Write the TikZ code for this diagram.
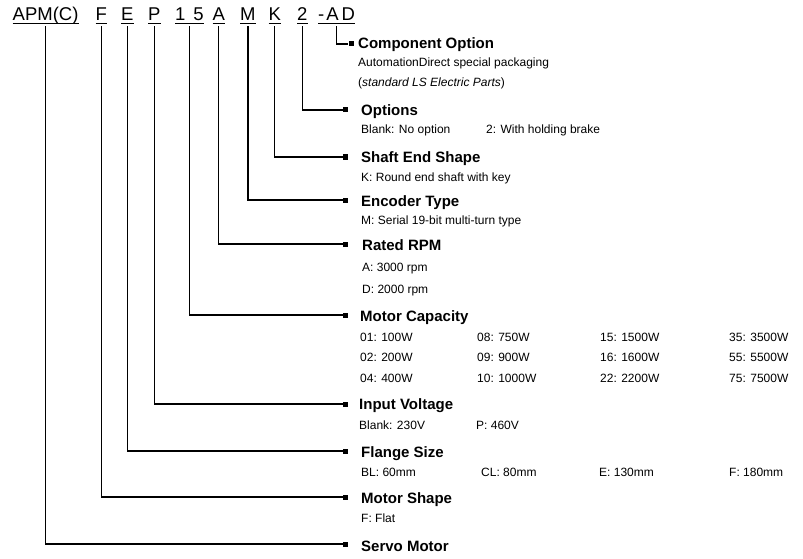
\documentclass[tikz,border=0pt]{standalone}
\usepackage{fontspec}
\setmainfont{Liberation Sans}
\begin{document}
\begin{tikzpicture}[x=1pt,y=-1pt,
  code/.style={anchor=base west,inner sep=0pt,font=\fontsize{18.5}{20}\selectfont},
  head/.style={anchor=base west,inner sep=0pt,font=\fontsize{15}{17}\selectfont\bfseries},
  sub/.style={anchor=base west,inner sep=0pt,font=\fontsize{12}{14}\selectfont},
  sq/.style={fill=black,inner sep=0pt,minimum size=5pt},
  conn/.style={line width=1.2pt},
  uline/.style={line width=1pt}]
\useasboundingbox (0,0) rectangle (803,559);
% code letters
\node[code] (c1) at (12.5,20.7) {APM(C)};
\node[code] (c2) at (95.5,20.7) {F};
\node[code] (c3) at (121,20.7) {E};
\node[code] (c4) at (148,20.7) {P};
\node[code] (c5) at (175,20.7) {1\kern8pt 5};
\node[code] (c6) at (212.5,20.7) {A};
\node[code] (c7) at (240,20.7) {M};
\node[code] (c8) at (268.5,20.7) {K};
\node[code] (c9) at (297,20.7) {2};
\node[code] (c10) at (318,20.7) {-\kern2pt A\kern3pt D};
\foreach \n in {c1,c2,c3,c4,c5,c6,c7,c8,c9,c10}
  \draw[uline] ([yshift=-2.8pt]\n.base west) -- ([yshift=-2.8pt]\n.base east);
% squares
\node[sq] (s10) at (351,44) {};
\node[sq] (s9) at (345.5,110) {};
\node[sq] (s8) at (345.5,157) {};
\node[sq] (s7) at (345.5,200) {};
\node[sq] (s6) at (345.5,244) {};
\node[sq] (s5) at (345.5,315) {};
\node[sq] (s4) at (345.5,404) {};
\node[sq] (s3) at (345.5,451) {};
\node[sq] (s2) at (345.5,497) {};
\node[sq] (s1) at (345.5,544) {};
% connectors
\foreach \i in {1,...,10}
  \draw[conn] ([yshift=-5.5pt]c\i.base) |- (s\i.west);
% headings
\node[head] (h10) at (358,49) {Component Option};
\node[head] (h9) at (361,116) {Options};
\node[head] (h8) at (361,162) {Shaft End Shape};
\node[head] (h7) at (361,206) {Encoder Type};
\node[head] (h6) at (362,250) {Rated RPM};
\node[head] (h5) at (360,321) {Motor Capacity};
\node[head] (h4) at (359,409) {Input Voltage};
\node[head] (h3) at (361,457) {Flange Size};
\node[head] (h2) at (361,503) {Motor Shape};
\node[head] (h1) at (361,551) {Servo Motor};
% sub texts
\node[sub] (t10a) at (358,67) {AutomationDirect special packaging};
\node[sub] (t10b) at (358,87) {(\textit{standard LS Electric Parts})};
\node[sub] (t9a) at (361,134) {Blank: No option};
\node[sub] (t9b) at (486,134) {2: With holding brake};
\node[sub] (t8a) at (361,181) {K: Round end shaft with key};
\node[sub] (t7a) at (361,224) {M: Serial 19-bit multi-turn type};
\node[sub] (t6a) at (362,271) {A: 3000 rpm};
\node[sub] (t6b) at (362,293) {D: 2000 rpm};
\node[sub] (m11) at (360,341) {01: 100W};
\node[sub] (m12) at (477,341) {08: 750W};
\node[sub] (m13) at (600,341) {15: 1500W};
\node[sub] (m14) at (729,341) {35: 3500W};
\node[sub] (m21) at (360,361) {02: 200W};
\node[sub] (m22) at (477,361) {09: 900W};
\node[sub] (m23) at (600,361) {16: 1600W};
\node[sub] (m24) at (729,361) {55: 5500W};
\node[sub] (m31) at (360,382) {04: 400W};
\node[sub] (m32) at (477,382) {10: 1000W};
\node[sub] (m33) at (600,382) {22: 2200W};
\node[sub] (m34) at (729,382) {75: 7500W};
\node[sub] (t4a) at (359,429) {Blank: 230V};
\node[sub] (t4b) at (476,429) {P: 460V};
\node[sub] (t3a) at (361,476) {BL: 60mm};
\node[sub] (t3b) at (481,476) {CL: 80mm};
\node[sub] (t3c) at (599,476) {E: 130mm};
\node[sub] (t3d) at (729,476) {F: 180mm};
\node[sub] (t2a) at (361,522) {F: Flat};
\end{tikzpicture}
\end{document}
